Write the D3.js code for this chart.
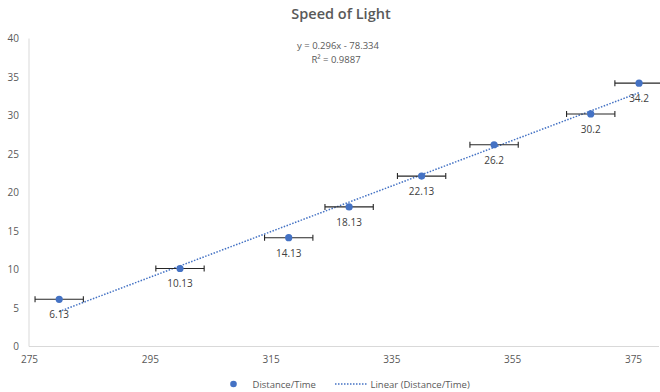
<!DOCTYPE html>
<html>
<head>
<meta charset="utf-8">
<script src="https://cdn.jsdelivr.net/npm/d3@7"></script>
<style>
  html, body { margin: 0; padding: 0; background: #ffffff; }
  svg { display: block; font-family: "Open Sans", "Liberation Sans", sans-serif; }
</style>
</head>
<body>
<svg id="chart" width="660" height="392"></svg>
<script>
// ---- data ----
const distances = [280, 300, 318, 328, 340, 352, 368, 376];
const speeds = [6.13, 10.13, 14.13, 18.13, 22.13, 26.2, 30.2, 34.2];
const pointLabels = ["6.13", "10.13", "14.13", "18.13", "22.13", "26.2", "30.2", "34.2"];
const xErrors = [4, 4, 4, 4, 4, 4, 4, 4];
const trendSlope = 0.296;
const trendIntercept = -78.334;
const equationLines = ["y = 0.296x - 78.334", "R\u00B2 = 0.9887"];
const xTicks = [275, 295, 315, 335, 355, 375];
const yTicks = [0, 5, 10, 15, 20, 25, 30, 35, 40];
const titleText = "Speed of Light";
const legendLabels = ["Distance/Time", "Linear (Distance/Time)"];

// ---- layout ----
const svg = d3.select("#chart");
const W = 660, H = 392;
const plot = { left: 29, right: 659, top: 38.5, bottom: 346.5 };
const blue = "#4472C4";
const textGray = "#595959";
const axisGray = "#d9d9d9";

svg.append("rect").attr("width", W).attr("height", H).attr("fill", "#ffffff");

const x = d3.scaleLinear().domain([275, 375]).range([plot.left, 633]);
const y = d3.scaleLinear().domain([0, 40]).range([plot.bottom, plot.top]);

// title
svg.append("text")
  .attr("x", 341).attr("y", 19)
  .attr("text-anchor", "middle")
  .attr("font-size", 14.5).attr("font-weight", 600)
  .attr("fill", textGray)
  .text(titleText);

// axes lines
svg.append("line")
  .attr("x1", plot.left).attr("x2", plot.left)
  .attr("y1", plot.top).attr("y2", plot.bottom)
  .attr("stroke", axisGray).attr("stroke-width", 1);
svg.append("line")
  .attr("x1", plot.left).attr("x2", plot.right)
  .attr("y1", plot.bottom).attr("y2", plot.bottom)
  .attr("stroke", axisGray).attr("stroke-width", 1);

// y axis ticks
const yAxis = d3.axisLeft(y).tickValues(yTicks).tickSize(0).tickPadding(10).tickFormat(d3.format("d"));
const gy = svg.append("g").attr("transform", `translate(${plot.left},0)`).call(yAxis);
gy.select(".domain").remove();
gy.selectAll("text").attr("font-size", 10).attr("fill", textGray).attr("font-family", "'Open Sans', sans-serif");

// x axis ticks
const xAxis = d3.axisBottom(x).tickValues(xTicks).tickSize(0).tickPadding(9).tickFormat(d3.format("d"));
const gx = svg.append("g").attr("transform", `translate(0,${plot.bottom})`).call(xAxis);
gx.select(".domain").remove();
gx.selectAll("text").attr("font-size", 10).attr("fill", textGray).attr("font-family", "'Open Sans', sans-serif");

// trendline
const xMin = d3.min(distances), xMax = d3.max(distances);
svg.append("line")
  .attr("x1", x(xMin)).attr("y1", y(trendSlope * xMin + trendIntercept))
  .attr("x2", x(xMax)).attr("y2", y(trendSlope * xMax + trendIntercept))
  .attr("stroke", blue).attr("stroke-width", 1.5)
  .attr("stroke-dasharray", "1.5,1.5");

// data rows
const rows = distances.map((d, i) => ({ x: d, y: speeds[i], label: pointLabels[i], err: xErrors[i] }));

// error bars
const eb = svg.append("g").attr("stroke", "#262626").attr("stroke-width", 1.1);
rows.forEach(r => {
  const x1 = x(r.x - r.err), x2 = x(r.x + r.err), yy = y(r.y);
  eb.append("line").attr("x1", x1).attr("x2", x2).attr("y1", yy).attr("y2", yy);
  eb.append("line").attr("x1", x1).attr("x2", x1).attr("y1", yy - 3).attr("y2", yy + 3);
  eb.append("line").attr("x1", x2).attr("x2", x2).attr("y1", yy - 3).attr("y2", yy + 3);
});

// points
svg.append("g").selectAll("circle").data(rows).join("circle")
  .attr("cx", d => x(d.x)).attr("cy", d => y(d.y)).attr("r", 3.6)
  .attr("fill", blue);

// data labels
svg.append("g").selectAll("text").data(rows).join("text")
  .attr("x", d => x(d.x)).attr("y", d => y(d.y) + 19)
  .attr("text-anchor", "middle")
  .attr("font-size", 10).attr("fill", "#404040")
  .text(d => d.label);

// equation
equationLines.forEach((t, i) => {
  svg.append("text")
    .attr("x", i === 0 ? 338 : 336).attr("y", 49 + i * 14)
    .attr("text-anchor", "middle")
    .attr("font-size", 9.5).attr("fill", textGray)
    .text(t);
});

// legend
const lg = svg.append("g");
lg.append("circle").attr("cx", 233.5).attr("cy", 384).attr("r", 3.3).attr("fill", blue);
lg.append("text").attr("x", 252.5).attr("y", 387.5).attr("font-size", 9.5).attr("fill", textGray).text(legendLabels[0]);
lg.append("line").attr("x1", 335).attr("x2", 367).attr("y1", 384).attr("y2", 384)
  .attr("stroke", blue).attr("stroke-width", 1.5).attr("stroke-dasharray", "1.5,1.5");
lg.append("text").attr("x", 370.5).attr("y", 387.5).attr("font-size", 9.5).attr("fill", textGray).text(legendLabels[1]);
</script>
</body>
</html>
